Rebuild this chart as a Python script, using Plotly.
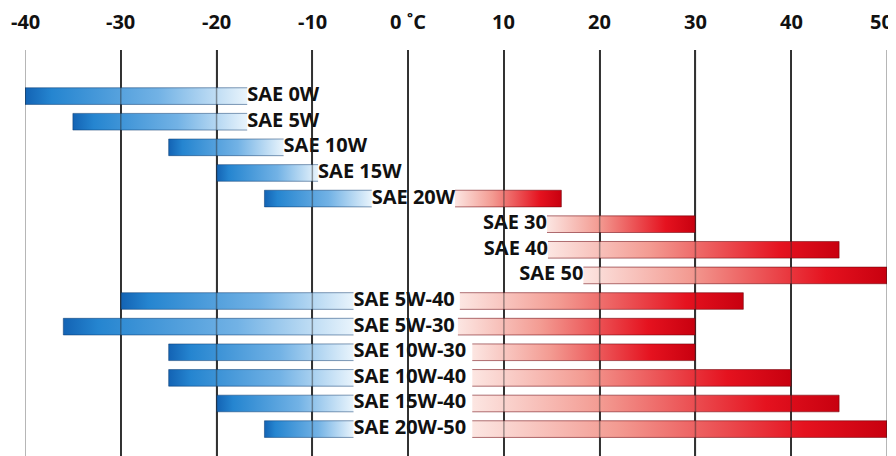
import plotly.graph_objects as go

# ---- data (°C) ----
grades = ["SAE 0W", "SAE 5W", "SAE 10W", "SAE 15W", "SAE 20W", "SAE 30", "SAE 40", "SAE 50",
          "SAE 5W-40", "SAE 5W-30", "SAE 10W-30", "SAE 10W-40", "SAE 15W-40", "SAE 20W-50"]
t_low = [-40, -35, -25, -20, -15, None, None, None, -30, -36, -25, -25, -20, -15]
t_high = [None, None, None, None, 16, 30, 45, 50, 35, 30, 30, 40, 45, 50]
# where the cold (blue) band fades out and the warm (red) band starts, °C
blue_end = [-16.8, -16.8, -13.0, -9.4, -3.8, None, None, None, -5.7, -5.7, -5.7, -5.7, -5.7, -5.7]
red_start = [None, None, None, None, 4.9, 14.5, 14.6, 18.3, 5.4, 5.2, 6.7, 6.7, 6.7, 6.7]
tick_vals = [-40, -30, -20, -10, 0, 10, 20, 30, 40, 50]
tick_text = ["-40", "-30", "-20", "-10", "0 ˚C", "10", "20", "30", "40", "50"]

BAR_H = 0.65
FONT = "Open Sans"
blue_scale = [[0, "#1363b4"], [0.12, "#2585d0"], [0.6, "#72b2e5"], [1, "#e9f4fc"]]
red_scale = [[0, "#fce6e2"], [0.35, "#f39b92"], [0.8, "#e5121f"], [1, "#c8000f"]]

fig = go.Figure()

for i, g in enumerate(grades):
    top, bot = i - BAR_H / 2, i + BAR_H / 2
    if t_low[i] is not None:
        x0, x1 = t_low[i], blue_end[i]
        fig.add_trace(go.Scatter(
            x=[x1, x0, x0, x1], y=[top, top, bot, bot],
            mode="lines", fill="toself",
            line=dict(color="rgba(8,55,110,0.5)", width=1),
            fillgradient=dict(type="horizontal", colorscale=blue_scale, start=x0, stop=x1),
            hoverinfo="skip", showlegend=False))
    if t_high[i] is not None:
        x0, x1 = red_start[i], t_high[i]
        fig.add_trace(go.Scatter(
            x=[x0, x1, x1, x0], y=[top, top, bot, bot],
            mode="lines", fill="toself",
            line=dict(color="rgba(110,0,10,0.55)", width=1),
            fillgradient=dict(type="horizontal", colorscale=red_scale, start=x0, stop=x1),
            hoverinfo="skip", showlegend=False))

# labels
lx, ly, lt = [], [], []
rx, ry, rt = [], [], []
for i, g in enumerate(grades):
    if blue_end[i] is not None:
        lx.append(blue_end[i]); ly.append(i); lt.append(g)
    else:
        rx.append(red_start[i]); ry.append(i); rt.append(g)

tf = dict(family=FONT, size=20, color="#111111", weight=700)
fig.add_trace(go.Scatter(x=lx, y=ly, text=lt, mode="text", textposition="middle right",
                         textfont=tf, hoverinfo="skip", showlegend=False))
fig.add_trace(go.Scatter(x=rx, y=ry, text=rt, mode="text", textposition="middle left",
                         textfont=tf, hoverinfo="skip", showlegend=False))

# grid lines also visible through bars
for v in tick_vals:
    fig.add_shape(type="line", xref="x", yref="paper", x0=v, x1=v, y0=0, y1=1,
                  line=dict(color="rgba(40,40,40,0.45)", width=1.5), layer="above")

# axis tick labels above the plot (last one kept inside the page edge)
for k, (v, t) in enumerate(zip(tick_vals, tick_text)):
    last = k == len(tick_vals) - 1
    fig.add_annotation(x=v, y=1, xref="x", yref="paper", text=t, showarrow=False,
                       xanchor="right" if last else "center", yanchor="middle",
                       xshift=8 if last else 0, yshift=29,
                       font=dict(family=FONT, size=20, color="#111111", weight=700))

# the page body adds an 8px margin, so the figure is sized 8px smaller
fig.update_layout(
    width=888, height=448,
    margin=dict(l=17, r=9, t=42, b=0, autoexpand=False),
    paper_bgcolor="white", plot_bgcolor="white",
    xaxis=dict(range=[-40, 50], side="top", tickvals=tick_vals, showticklabels=False,
               showgrid=True, gridcolor="#3a3a3a", gridwidth=2, automargin=False,
               zeroline=False, showline=False, ticks="", fixedrange=True),
    yaxis=dict(range=[14.05, -1.8], visible=False, showgrid=False, zeroline=False,
               automargin=False),
)

fig.write_html("out.html")
